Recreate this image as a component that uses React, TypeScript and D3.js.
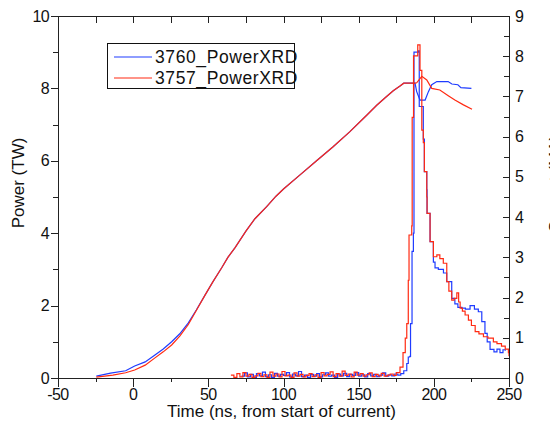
import React from "react";
import * as d3 from "d3";

type Pt = [number, number];

// Current traces (right axis)
const current3760: Pt[] = [
  [-24.5, 0.045], [-15, 0.12], [-5, 0.18], [1, 0.3], [8, 0.4], [14.5, 0.57], [20, 0.72],
  [25.6, 0.9], [31, 1.1], [36.7, 1.37], [42, 1.69], [47.8, 2.06], [53, 2.39], [58.9, 2.74],
  [63, 3.0], [67.8, 3.24], [75, 3.65], [81, 3.96], [88.8, 4.26], [95, 4.52], [100, 4.7],
  [111, 5.05], [122, 5.4], [133, 5.75], [144, 6.12], [155, 6.52], [162, 6.78], [168, 6.98],
  [173, 7.14], [177.5, 7.26], [180, 7.33], [187.5, 7.33], [188.6, 7.12], [190.8, 6.91],
  [194.2, 6.91], [196.4, 7.12], [198.6, 7.29], [202, 7.37], [209.5, 7.37], [212, 7.31],
  [216, 7.29], [218, 7.22], [225, 7.2],
];
const current3757: Pt[] = [
  [-24.5, 0.02], [-13.5, 0.07], [-5, 0.13], [1, 0.2], [8, 0.32], [14.5, 0.5], [20, 0.65],
  [25.6, 0.82], [31, 1.04], [36.7, 1.33], [42, 1.68], [47.8, 2.06], [53, 2.39], [58.9, 2.74],
  [63, 3.0], [67.8, 3.24], [75, 3.65], [81, 3.96], [88.8, 4.26], [95, 4.52], [100, 4.7],
  [111, 5.05], [122, 5.4], [133, 5.75], [144, 6.12], [155, 6.52], [162, 6.78], [168, 6.98],
  [173, 7.14], [177.5, 7.26], [180, 7.33], [187.5, 7.33], [188.6, 7.34], [192, 7.5],
  [195.3, 7.41], [198.6, 7.2], [204, 7.16], [209.6, 7.02], [214, 6.91], [219.7, 6.79],
  [225.4, 6.68],
];

// Power traces (left axis, TW)
const power3760: Pt[] = [
  [72, 0.05], [74, 0.14], [76, 0.03], [78, 0.1], [80, 0.02], [82, 0.12], [84, 0.06], [86, 0.16],
  [88, 0.04], [90, 0.09], [92, 0.02], [94, 0.13], [96, 0.05], [98, 0.1], [100, 0.07], [102, 0.15],
  [104, 0.03], [106, 0.11], [108, 0.06], [110, 0.18], [112, 0.04], [114, 0.08], [116, 0.02],
  [118, 0.1], [120, 0.05], [122, 0.12], [124, 0.03], [126, 0.09], [128, 0.14], [130, 0.05],
  [132, 0.08], [134, 0.02], [136, 0.11], [138, 0.06], [140, 0.13], [142, 0.04], [144, 0.1],
  [146, 0.07], [148, 0.15], [150, 0.05], [152, 0.09], [154, 0.03], [156, 0.12], [158, 0.06],
  [160, 0.1], [162, 0.04], [164, 0.08], [166, 0.14], [168, 0.05], [170, 0.09], [172, 0.06],
  [174, 0.11], [176, 0.08], [178, 0.12], [180, 0.2], [182, 0.4], [183, 0.58], [184, 0.6],
  [184.5, 1.5], [185.5, 3.5], [186.4, 4.0], [186.8, 9.0], [189.7, 9.04], [190.3, 7.5],
  [193, 6.6], [193.7, 5.7], [195.3, 5.2], [195.5, 4.55], [197.5, 3.77], [199.7, 3.2],
  [200.8, 3.04], [203, 3.0], [206.4, 2.9], [208.6, 2.66], [211.9, 2.2], [214, 2.05], [216, 1.95],
  [218.6, 1.93], [221, 1.9], [224.1, 2.0], [227, 1.9], [229.6, 1.83], [231.9, 1.56], [234, 1.23],
  [235.5, 1.0], [237.4, 0.79], [240, 0.72], [242, 0.8], [244, 0.7], [246, 0.78], [247.5, 0.75],
];
const power3757: Pt[] = [
  [65, 0.08], [67, 0.02], [69, 0.12], [71, 0.03], [73, 0.15], [75, 0.05], [77, 0.1], [79, 0.02],
  [81, 0.06], [83, 0.13], [85, 0.04], [87, 0.09], [89, 0.02], [91, 0.16], [93, 0.05], [95, 0.11],
  [97, 0.03], [99, 0.18], [101, 0.06], [103, 0.08], [105, 0.02], [107, 0.14], [109, 0.05],
  [111, 0.1], [113, 0.03], [115, 0.07], [117, 0.12], [119, 0.04], [121, 0.09], [123, 0.02],
  [125, 0.15], [127, 0.06], [129, 0.1], [131, 0.17], [133, 0.04], [135, 0.12], [137, 0.05],
  [139, 0.19], [141, 0.07], [143, 0.11], [145, 0.03], [147, 0.16], [149, 0.08], [151, 0.12],
  [153, 0.05], [155, 0.09], [157, 0.14], [159, 0.04], [161, 0.1], [163, 0.06], [165, 0.13],
  [167, 0.05], [169, 0.08], [171, 0.11], [173, 0.07], [175, 0.15], [176, 0.15], [177.5, 0.3],
  [179.5, 0.7], [181, 1.1], [182, 1.5], [183, 2.7], [183.5, 3.95], [185.3, 4.2], [185.6, 7.2],
  [186.5, 8.9], [189.3, 9.2], [190.8, 8.5], [192, 6.85], [193, 6.5], [193.7, 5.7], [195.3, 5.0],
  [195.5, 4.55], [197.5, 3.77], [199.7, 3.35], [202, 3.4], [204, 3.3], [206.3, 3.17],
  [208.6, 2.66], [210, 2.4], [211.9, 2.15], [213.5, 2.2], [215.3, 2.35], [216.5, 2.1],
  [217.5, 1.93], [219, 1.85], [220.8, 1.74], [223, 1.6], [225, 1.45], [227.5, 1.28], [230, 1.22],
  [233, 1.14], [236, 1.1], [239.6, 1.0], [242, 0.95], [245, 0.88], [247.5, 0.8], [249.6, 0.7],
  [250, 0.6],
];

const xTicks = [-50, 0, 50, 100, 150, 200, 250];
const xMinorTicks = [-25, 25, 75, 125, 175, 225];
const leftTicks = [0, 2, 4, 6, 8, 10];
const leftMinorTicks = [1, 3, 5, 7, 9];
const rightTicks = [0, 1, 2, 3, 4, 5, 6, 7, 8, 9];
const rightMinorTicks = [0.5, 1.5, 2.5, 3.5, 4.5, 5.5, 6.5, 7.5, 8.5];
const legendLabels = ["3760_PowerXRD", "3757_PowerXRD"];

const BLUE = "#1f3cff";
const RED = "#ff2a12";
const FONT = "Arial, 'Liberation Sans', sans-serif";

export default function App() {
  const W = 550, H = 433;
  const L = 58, R = 509, T = 16, B = 378;
  const x = d3.scaleLinear().domain([-50, 250]).range([L, R]);
  const yL = d3.scaleLinear().domain([0, 10]).range([B, T]);
  const yR = d3.scaleLinear().domain([0, 9]).range([B, T]);

  const lineCur = d3.line<Pt>().x((d) => x(d[0])).y((d) => yR(d[1])).curve(d3.curveLinear);
  const linePow = d3.line<Pt>().x((d) => x(d[0])).y((d) => yL(d[1])).curve(d3.curveStepAfter);

  const axisColor = "#222";
  const sw = 1.2;

  return (
    <svg width={W} height={H} style={{ position: "absolute", left: 0, top: 0 }} fontFamily={FONT}>
      <rect x={0} y={0} width={W} height={H} fill="#fff" />
      <defs>
        <clipPath id="plot">
          <rect x={L} y={T - 2} width={R - L} height={B - T + 2} />
        </clipPath>
      </defs>
      <g clipPath="url(#plot)" fill="none" strokeWidth={sw}>
        <path d={lineCur(current3760) || ""} stroke={BLUE} />
        <path d={linePow(power3760) || ""} stroke={BLUE} />
        <path d={lineCur(current3757) || ""} stroke={RED} />
        <path d={linePow(power3757) || ""} stroke={RED} />
      </g>
      {/* frame */}
      <g stroke={axisColor} strokeWidth={1} fill="none">
        <line x1={L} x2={R} y1={B + 0.5} y2={B + 0.5} />
        <line x1={L} x2={R} y1={T + 0.5} y2={T + 0.5} />
        <line x1={L + 0.5} x2={L + 0.5} y1={T} y2={B + 1} />
        <line x1={R + 0.5} x2={R + 0.5} y1={T} y2={B + 1} />
        {xTicks.map((t) => (
          <line key={"xb" + t} x1={Math.round(x(t)) + 0.5} x2={Math.round(x(t)) + 0.5} y1={B} y2={B + 9} />
        ))}
        {xMinorTicks.map((t) => (
          <line key={"xbm" + t} x1={Math.round(x(t)) + 0.5} x2={Math.round(x(t)) + 0.5} y1={B} y2={B + 4} />
        ))}
        {[...xTicks, ...xMinorTicks].map((t) => (
          <line key={"xt" + t} x1={Math.round(x(t)) + 0.5} x2={Math.round(x(t)) + 0.5} y1={T} y2={T + 7} />
        ))}
        {leftTicks.map((t) => (
          <line key={"yl" + t} x1={L - 7} x2={L} y1={Math.round(yL(t)) + 0.5} y2={Math.round(yL(t)) + 0.5} />
        ))}
        {leftMinorTicks.map((t) => (
          <line key={"ylm" + t} x1={L - 5} x2={L} y1={Math.round(yL(t)) + 0.5} y2={Math.round(yL(t)) + 0.5} />
        ))}
        {rightTicks.map((t) => (
          <line key={"yr" + t} x1={R - 6} x2={R} y1={Math.round(yR(t)) + 0.5} y2={Math.round(yR(t)) + 0.5} />
        ))}
        {rightMinorTicks.map((t) => (
          <line key={"yrm" + t} x1={R - 5} x2={R} y1={Math.round(yR(t)) + 0.5} y2={Math.round(yR(t)) + 0.5} />
        ))}
      </g>
      {/* tick labels */}
      <g fontSize={16} fill="#111">
        {xTicks.map((t) => (
          <text key={"xl" + t} x={x(t)} y={B + 22} textAnchor="middle" letterSpacing={-0.6}>
            {t}
          </text>
        ))}
        {leftTicks.map((t) => (
          <text key={"yll" + t} x={L - 9} y={yL(t) + 5.5} textAnchor="end" letterSpacing={-0.6}>
            {t}
          </text>
        ))}
        {rightTicks.map((t) => (
          <text key={"yrl" + t} x={R + 6} y={yR(t) + 5.5} textAnchor="start">
            {t}
          </text>
        ))}
      </g>
      {/* axis titles */}
      <text x={(L + R) / 2 - 2} y={417} textAnchor="middle" fontSize={17} fill="#111">
        Time (ns, from start of current)
      </text>
      <text transform={`translate(24, 183) rotate(-90)`} textAnchor="middle" fontSize={17} fill="#111">
        Power (TW)
      </text>
      <text transform={`translate(561, 184) rotate(-90)`} textAnchor="middle" fontSize={17} fill="#111">
        Current (MA)
      </text>
      {/* legend */}
      <g>
        <rect x={107.5} y={43.5} width={187} height={45} fill="#fff" stroke="#111" strokeWidth={1} />
        {legendLabels.map((lab, i) => (
          <g key={lab}>
            <line x1={114} x2={152} y1={57 + i * 21} y2={57 + i * 21} stroke={i === 0 ? BLUE : RED} strokeWidth={1.2} />
            <text x={155} y={63 + i * 21} fontSize={17.5} fill="#111" letterSpacing={0.6}>
              {lab}
            </text>
          </g>
        ))}
      </g>
    </svg>
  );
}
